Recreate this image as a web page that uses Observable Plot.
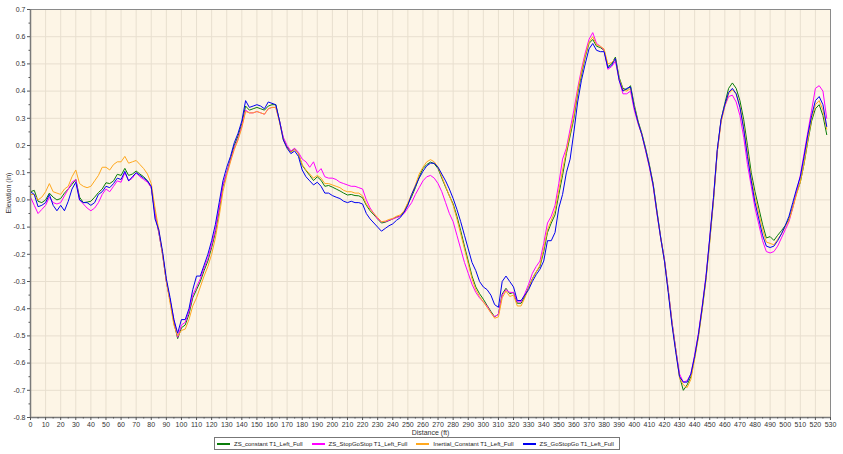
<!DOCTYPE html>
<html>
<head>
<meta charset="utf-8">
<script src="https://cdn.jsdelivr.net/npm/d3@7"></script>
<script src="https://cdn.jsdelivr.net/npm/@observablehq/plot@0.6"></script>
<style>
  body { margin: 0; background: #fff; font-family: "Liberation Sans", Arial, sans-serif; }
  #legend { position: absolute; left: 214px; top: 437px; height: 11px; border: 1px solid #777;
    display: flex; align-items: center; font-size: 6px; color: #222; padding: 0 2px; white-space: nowrap; background: #fff; }
  .item { display: flex; align-items: center; margin-right: 9px; }
  .item:last-child { margin-right: 3px; }
  .sw { width: 13px; height: 2px; margin-right: 4px; }
</style>
</head>
<body>
<div id="chart"></div>
<div id="legend"></div>
<script>
const seriesNames = ["ZS_constant T1_Left_Full", "ZS_StopGoStop T1_Left_Full", "Inertial_Constant T1_Left_Full", "ZS_GoStopGo T1_Left_Full"];
const seriesColors = ["#0a7d0a", "#ff00ff", "#ffa81e", "#0000f0"];

const distance = [
  0,2.5,5,7.5,10,12.5,15,17.5,
  20,22.5,25,27.5,30,32.5,35,37.5,
  40,42.5,45,47.5,50,52.5,55,57.5,
  60,62.5,65,67.5,70,72.5,75,77.5,
  80,82.5,85,87.5,90,92.5,95,97.5,
  100,102.5,105,107.5,110,112.5,115,117.5,
  120,122.5,125,127.5,130,132.5,135,137.5,
  140,142.5,145,147.5,150,152.5,155,157.5,
  160,162.5,165,167.5,170,172.5,175,177.5,
  180,182.5,185,187.5,190,192.5,195,197.5,
  200,202.5,205,207.5,210,212.5,215,217.5,
  220,222.5,225,227.5,230,232.5,235,237.5,
  240,242.5,245,247.5,250,252.5,255,257.5,
  260,262.5,265,267.5,270,272.5,275,277.5,
  280,282.5,285,287.5,290,292.5,295,297.5,
  300,302.5,305,307.5,310,312.5,315,317.5,
  320,322.5,325,327.5,330,332.5,335,337.5,
  340,342.5,345,347.5,350,352.5,355,357.5,
  360,362.5,365,367.5,370,372.5,375,377.5,
  380,382.5,385,387.5,390,392.5,395,397.5,
  400,402.5,405,407.5,410,412.5,415,417.5,
  420,422.5,425,427.5,430,432.5,435,437.5,
  440,442.5,445,447.5,450,452.5,455,457.5,
  460,462.5,465,467.5,470,472.5,475,477.5,
  480,482.5,485,487.5,490,492.5,495,497.5,
  500,502.5,505,507.5,510,512.5,515,517.5,
  520,522.5,525,527.5
];

const zsConstant = [
  0.03,0.035,-0.005,-0.01,0.0,0.025,0.01,0.0,
  0.005,0.025,0.04,0.057,0.075,0.01,-0.01,-0.008,
  -0.005,0.01,0.027,0.04,0.063,0.06,0.07,0.094,
  0.09,0.116,0.09,0.095,0.106,0.095,0.085,0.07,
  0.045,-0.05,-0.12,-0.2,-0.3,-0.37,-0.45,-0.51,
  -0.47,-0.46,-0.42,-0.36,-0.33,-0.3,-0.26,-0.225,
  -0.175,-0.12,-0.04,0.05,0.1,0.15,0.2,0.235,
  0.28,0.345,0.33,0.335,0.34,0.335,0.33,0.345,
  0.35,0.35,0.29,0.225,0.195,0.176,0.188,0.17,
  0.127,0.108,0.09,0.071,0.085,0.072,0.05,0.053,
  0.047,0.04,0.033,0.025,0.018,0.02,0.016,0.015,
  0.008,-0.02,-0.04,-0.055,-0.07,-0.085,-0.082,-0.076,
  -0.07,-0.063,-0.06,-0.045,-0.015,0.012,0.045,0.085,
  0.115,0.13,0.139,0.133,0.115,0.08,0.047,0.015,
  -0.015,-0.06,-0.113,-0.17,-0.225,-0.28,-0.32,-0.345,
  -0.365,-0.388,-0.41,-0.43,-0.42,-0.346,-0.325,-0.345,
  -0.34,-0.38,-0.38,-0.355,-0.322,-0.29,-0.265,-0.245,
  -0.19,-0.12,-0.085,-0.055,0.02,0.09,0.17,0.235,
  0.3,0.39,0.46,0.525,0.575,0.59,0.565,0.56,
  0.55,0.49,0.5,0.525,0.45,0.41,0.405,0.42,
  0.35,0.29,0.245,0.19,0.13,0.06,-0.04,-0.137,
  -0.22,-0.33,-0.45,-0.55,-0.65,-0.7,-0.68,-0.65,
  -0.58,-0.5,-0.4,-0.29,-0.15,0.0,0.18,0.295,
  0.355,0.41,0.43,0.41,0.365,0.295,0.2,0.1,
  0.03,-0.03,-0.09,-0.14,-0.135,-0.149,-0.13,-0.113,
  -0.095,-0.07,-0.025,0.025,0.065,0.133,0.215,0.29,
  0.335,0.35,0.31,0.24
];

const zsStopGoStop = [
  0.01,-0.02,-0.05,-0.035,-0.02,0.01,-0.01,-0.015,
  -0.01,0.015,0.04,0.065,0.075,0.0,-0.015,-0.03,
  -0.04,-0.03,-0.01,0.02,0.04,0.03,0.05,0.07,
  0.065,0.1,0.07,0.08,0.1,0.085,0.075,0.065,
  0.045,-0.05,-0.12,-0.2,-0.3,-0.37,-0.44,-0.505,
  -0.46,-0.45,-0.41,-0.35,-0.32,-0.29,-0.25,-0.215,
  -0.165,-0.11,-0.03,0.055,0.1,0.145,0.19,0.225,
  0.27,0.33,0.32,0.32,0.325,0.32,0.315,0.335,
  0.34,0.34,0.29,0.23,0.2,0.18,0.19,0.175,
  0.15,0.14,0.12,0.14,0.1,0.115,0.085,0.08,
  0.08,0.075,0.065,0.06,0.055,0.05,0.05,0.045,
  0.04,0.0,-0.03,-0.05,-0.07,-0.08,-0.08,-0.075,
  -0.07,-0.065,-0.06,-0.05,-0.03,-0.01,0.02,0.045,
  0.07,0.085,0.09,0.08,0.06,0.03,-0.01,-0.05,
  -0.08,-0.13,-0.18,-0.23,-0.27,-0.31,-0.34,-0.36,
  -0.375,-0.39,-0.415,-0.43,-0.42,-0.35,-0.33,-0.34,
  -0.34,-0.375,-0.375,-0.345,-0.31,-0.27,-0.245,-0.225,
  -0.16,-0.085,-0.06,-0.02,0.06,0.15,0.19,0.26,
  0.33,0.41,0.48,0.54,0.59,0.615,0.575,0.565,
  0.55,0.48,0.49,0.51,0.44,0.39,0.39,0.4,
  0.33,0.28,0.24,0.18,0.12,0.05,-0.05,-0.14,
  -0.22,-0.33,-0.45,-0.55,-0.64,-0.67,-0.665,-0.64,
  -0.57,-0.49,-0.39,-0.28,-0.14,0.01,0.18,0.29,
  0.345,0.38,0.385,0.36,0.31,0.23,0.13,0.05,
  -0.03,-0.09,-0.15,-0.19,-0.195,-0.19,-0.17,-0.14,
  -0.11,-0.08,-0.03,0.03,0.09,0.17,0.25,0.33,
  0.41,0.42,0.4,0.3
];

const inertialConstant = [
  0.02,0.02,0.0,0.01,0.03,0.06,0.03,0.025,
  0.02,0.04,0.05,0.085,0.11,0.06,0.05,0.045,
  0.05,0.07,0.09,0.12,0.12,0.11,0.13,0.14,
  0.14,0.16,0.135,0.14,0.145,0.13,0.115,0.095,
  0.06,-0.03,-0.11,-0.2,-0.3,-0.38,-0.46,-0.5,
  -0.48,-0.475,-0.44,-0.39,-0.36,-0.32,-0.28,-0.245,
  -0.2,-0.14,-0.06,0.03,0.09,0.14,0.185,0.22,
  0.265,0.325,0.32,0.32,0.325,0.32,0.315,0.335,
  0.34,0.34,0.285,0.22,0.19,0.175,0.185,0.17,
  0.13,0.11,0.095,0.08,0.09,0.08,0.06,0.06,
  0.055,0.05,0.045,0.035,0.03,0.03,0.025,0.025,
  0.015,-0.015,-0.035,-0.05,-0.065,-0.08,-0.078,-0.072,
  -0.068,-0.06,-0.055,-0.04,-0.01,0.02,0.055,0.095,
  0.12,0.14,0.148,0.14,0.12,0.085,0.05,0.015,
  -0.02,-0.07,-0.125,-0.18,-0.235,-0.29,-0.33,-0.355,
  -0.375,-0.395,-0.415,-0.435,-0.43,-0.36,-0.335,-0.355,
  -0.35,-0.39,-0.39,-0.36,-0.325,-0.29,-0.265,-0.24,
  -0.18,-0.11,-0.075,-0.04,0.035,0.11,0.18,0.245,
  0.31,0.4,0.47,0.53,0.58,0.6,0.57,0.565,
  0.555,0.5,0.505,0.52,0.445,0.405,0.4,0.41,
  0.345,0.285,0.24,0.185,0.125,0.055,-0.045,-0.14,
  -0.225,-0.335,-0.455,-0.555,-0.655,-0.68,-0.69,-0.66,
  -0.585,-0.505,-0.405,-0.295,-0.155,0.0,0.175,0.285,
  0.345,0.39,0.405,0.39,0.345,0.27,0.175,0.08,
  0.01,-0.05,-0.11,-0.155,-0.16,-0.165,-0.145,-0.125,
  -0.1,-0.075,-0.03,0.02,0.065,0.135,0.22,0.3,
  0.35,0.365,0.33,0.26
];

const zsGoStopGo = [
  0.03,0.02,-0.025,-0.02,-0.01,0.02,-0.02,-0.04,
  -0.02,-0.04,-0.005,0.04,0.065,0.0,-0.01,-0.01,
  -0.02,-0.01,0.02,0.03,0.05,0.045,0.06,0.08,
  0.075,0.105,0.07,0.085,0.1,0.09,0.08,0.07,
  0.05,-0.07,-0.11,-0.19,-0.29,-0.36,-0.44,-0.49,
  -0.44,-0.44,-0.4,-0.33,-0.28,-0.28,-0.24,-0.2,
  -0.15,-0.09,-0.01,0.07,0.12,0.16,0.21,0.245,
  0.29,0.365,0.34,0.345,0.35,0.345,0.335,0.36,
  0.355,0.35,0.29,0.22,0.19,0.17,0.18,0.16,
  0.11,0.085,0.07,0.055,0.065,0.05,0.025,0.025,
  0.016,0.01,0.005,-0.005,-0.01,-0.005,-0.01,-0.01,
  -0.015,-0.05,-0.07,-0.085,-0.1,-0.115,-0.105,-0.095,
  -0.088,-0.075,-0.065,-0.045,-0.02,0.02,0.05,0.08,
  0.105,0.125,0.135,0.135,0.12,0.095,0.07,0.04,
  0.005,-0.035,-0.08,-0.13,-0.18,-0.23,-0.26,-0.3,
  -0.32,-0.33,-0.35,-0.385,-0.395,-0.3,-0.28,-0.3,
  -0.32,-0.37,-0.37,-0.35,-0.33,-0.3,-0.275,-0.255,
  -0.225,-0.15,-0.15,-0.12,-0.03,0.02,0.1,0.15,
  0.25,0.36,0.44,0.5,0.555,0.575,0.55,0.545,
  0.545,0.485,0.495,0.52,0.44,0.4,0.41,0.415,
  0.34,0.285,0.24,0.185,0.125,0.055,-0.045,-0.14,
  -0.225,-0.34,-0.46,-0.56,-0.65,-0.67,-0.67,-0.64,
  -0.575,-0.495,-0.395,-0.285,-0.14,0.01,0.185,0.295,
  0.35,0.395,0.41,0.39,0.34,0.26,0.16,0.07,
  -0.01,-0.07,-0.13,-0.17,-0.175,-0.17,-0.15,-0.125,
  -0.095,-0.06,-0.01,0.04,0.085,0.16,0.24,0.31,
  0.365,0.38,0.35,0.27
];

const xTicks = [0,10,20,30,40,50,60,70,80,90,100,110,120,130,140,150,160,170,180,190,200,210,220,230,240,250,260,270,280,290,300,310,320,330,340,350,360,370,380,390,400,410,420,430,440,450,460,470,480,490,500,510,520,530];
const yTicks = [-0.8,-0.7,-0.6,-0.5,-0.4,-0.3,-0.2,-0.1,0.0,0.1,0.2,0.3,0.4,0.5,0.6,0.7];
const xMinor = xTicks.slice(0, -1).map(t => t + 5);
const yMinor = yTicks.slice(0, -1).map(t => t + 0.05);

const valueSets = [zsConstant, zsStopGoStop, inertialConstant, zsGoStopGo];
const rows = [];
valueSets.forEach((vals, si) => {
  vals.forEach((v, i) => rows.push({series: seriesNames[si], d: distance[i], v}));
});

const grid = "#e8dfcf";
const chart = Plot.plot({
  width: 843,
  height: 438,
  marginLeft: 30,
  marginRight: 13,
  marginTop: 9,
  marginBottom: 21,
  style: {fontFamily: "Liberation Sans, Arial, sans-serif", fontSize: "7px", color: "#333", background: "#fff"},
  x: {domain: [0, 530], axis: null},
  y: {domain: [-0.8, 0.7], axis: null},
  color: {domain: seriesNames, range: seriesColors},
  marks: [
    Plot.frame({fill: "#fdf5e6", stroke: null}),
    Plot.ruleX(xTicks, {stroke: grid, strokeWidth: 1}),
    Plot.ruleY(yTicks, {stroke: grid, strokeWidth: 1}),
    Plot.line(rows, {x: "d", y: "v", z: "series", stroke: "series", strokeWidth: 1}),
    Plot.ruleY([0.7], {stroke: "#8a8a8a", strokeWidth: 1}),
    Plot.ruleX([530], {stroke: "#8a8a8a", strokeWidth: 1}),
    Plot.ruleX([0], {stroke: "#7a7a7a", strokeWidth: 1.5}),
    Plot.ruleY([-0.8], {stroke: "#7a7a7a", strokeWidth: 1.5}),
    Plot.axisX({ticks: xTicks, tickSize: 3, tickPadding: 2, tickFormat: d => String(d), stroke: "#555", label: null}),
    Plot.axisX({ticks: xMinor, tickSize: 1.5, tickFormat: () => "", stroke: "#555", label: null}),
    Plot.axisY({ticks: yTicks, tickSize: 3, tickPadding: 2, tickFormat: d => d3.format(".1f")(d).replace("−", "-"), stroke: "#555", label: null}),
    Plot.axisY({ticks: yMinor, tickSize: 1.5, tickFormat: () => "", stroke: "#555", label: null}),
    Plot.text(["Distance (ft)"], {frameAnchor: "bottom", dy: 17, fill: "#333"}),
    Plot.text(["Elevation (in)"], {frameAnchor: "left", dx: -22, rotate: -90, fill: "#333"})
  ]
});
document.getElementById("chart").appendChild(chart);

const legend = document.getElementById("legend");
seriesNames.forEach((name, i) => {
  const item = document.createElement("div");
  item.className = "item";
  const sw = document.createElement("div");
  sw.className = "sw";
  sw.style.background = seriesColors[i];
  const label = document.createElement("span");
  label.textContent = name;
  item.appendChild(sw);
  item.appendChild(label);
  legend.appendChild(item);
});
</script>
</body>
</html>
